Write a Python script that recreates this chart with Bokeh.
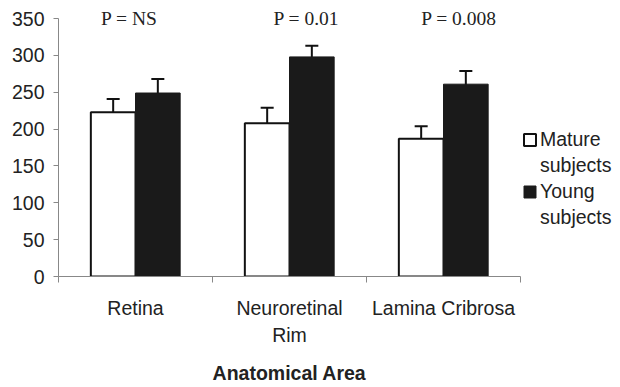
from bokeh.plotting import figure
from bokeh.models import (ColumnDataSource, FixedTicker, Range1d, Whisker, TeeHead,
                          Label, Legend, LegendItem)
from bokeh.embed import file_html
from bokeh.resources import INLINE

categories = ["Retina", "Neuroretinal\nRim", "Lamina Cribrosa"]
mature = [223, 208, 187]
mature_err = [18, 21, 17]
young = [249, 298, 261]
young_err = [19, 15, 18]
p_labels = ["P = NS", "P = 0.01", "P = 0.008"]
p_label_x = [0.46, 1.61, 2.60]
y_ticks = [0, 50, 100, 150, 200, 250, 300, 350]

centers = [i + 0.5 for i in range(len(categories))]
bw = 0.29
mx = [c - bw / 2 for c in centers]
yx = [c + bw / 2 for c in centers]

src_m = ColumnDataSource(dict(x=mx, top=mature,
                              lo=[v - e for v, e in zip(mature, mature_err)],
                              hi=[v + e for v, e in zip(mature, mature_err)]))
src_y = ColumnDataSource(dict(x=yx, top=young,
                              lo=[v - e for v, e in zip(young, young_err)],
                              hi=[v + e for v, e in zip(young, young_err)]))

FS = "19.5px"

p = figure(frame_width=462, frame_height=266, output_backend="svg", toolbar_location=None,
           x_range=Range1d(0, 3), y_range=Range1d(0, 361),
           min_border_left=58, min_border_top=10, min_border_right=96, min_border_bottom=104)
p.outline_line_color = None
p.xgrid.grid_line_color = None
p.ygrid.grid_line_color = None
p.background_fill_color = "white"
p.border_fill_color = "white"

r_m = p.vbar(x="x", top="top", width=bw, bottom=0, source=src_m,
             fill_color="white", line_color="#111111", line_width=2)
r_y = p.vbar(x="x", top="top", width=bw, bottom=0, source=src_y,
             fill_color="#1a1a1a", line_color="#1a1a1a", line_width=1)
dummy_src = ColumnDataSource(dict(x=[], top=[]))
r_d = p.vbar(x="x", top="top", width=bw, bottom=0, source=dummy_src,
             fill_alpha=0, line_alpha=0)

for s in (src_m, src_y):
    w = Whisker(base="x", upper="hi", lower="lo", source=s, line_color="#111111", line_width=2,
                upper_head=TeeHead(size=13, line_color="#111111", line_width=2),
                lower_head=TeeHead(size=13, line_color="#111111", line_width=2))
    p.add_layout(w)

for xv, t in zip(p_label_x, p_labels):
    p.add_layout(Label(x=xv, y=350, text=t, text_align="center", text_baseline="middle",
                       text_font="Liberation Serif", text_font_size=FS,
                       text_color="#222222"))

# axes
p.yaxis.ticker = FixedTicker(ticks=y_ticks)
p.yaxis.bounds = (0, 350)
p.yaxis.major_label_text_font = "Liberation Sans"
p.yaxis.major_label_text_font_size = FS
p.yaxis.major_label_text_color = "#222222"
p.yaxis.axis_line_color = "#888888"
p.yaxis.major_tick_line_color = "#888888"
p.yaxis.major_tick_out = 5
p.yaxis.major_tick_in = 0
p.yaxis.minor_tick_line_color = None
p.yaxis.major_label_standoff = 9

p.xaxis.ticker = FixedTicker(ticks=centers, minor_ticks=[0, 1, 2, 3])
p.xaxis.major_label_overrides = {c: lab for c, lab in zip(centers, categories)}
p.xaxis.major_label_text_font = "Liberation Sans"
p.xaxis.major_label_text_font_size = FS
p.xaxis.major_label_text_color = "#222222"
p.xaxis.major_label_text_line_height = 1.25
p.xaxis.major_tick_line_color = None
p.xaxis.minor_tick_line_color = "#888888"
p.xaxis.minor_tick_out = 6
p.xaxis.minor_tick_in = 0
p.xaxis.axis_line_color = "#888888"
p.xaxis.major_label_standoff = 14
p.xaxis.axis_label = "Anatomical Area"
p.xaxis.axis_label_text_font = "Liberation Sans"
p.xaxis.axis_label_text_font_style = "bold"
p.xaxis.axis_label_text_font_size = FS
p.xaxis.axis_label_text_color = "#222222"
p.xaxis.axis_label_standoff = 13

legend = Legend(items=[LegendItem(label="Mature", renderers=[r_m]),
                       LegendItem(label="subjects", renderers=[r_d]),
                       LegendItem(label="Young", renderers=[r_y]),
                       LegendItem(label="subjects", renderers=[r_d])],
                location=(2, 47), label_text_font="Liberation Sans", label_text_font_size=FS,
                label_text_color="#222222", glyph_width=15, glyph_height=15,
                label_standoff=3, spacing=3, padding=2, margin=0,
                border_line_color=None, background_fill_alpha=0)
p.add_layout(legend, "right")

open("out.html", "w").write(file_html(p, INLINE))
